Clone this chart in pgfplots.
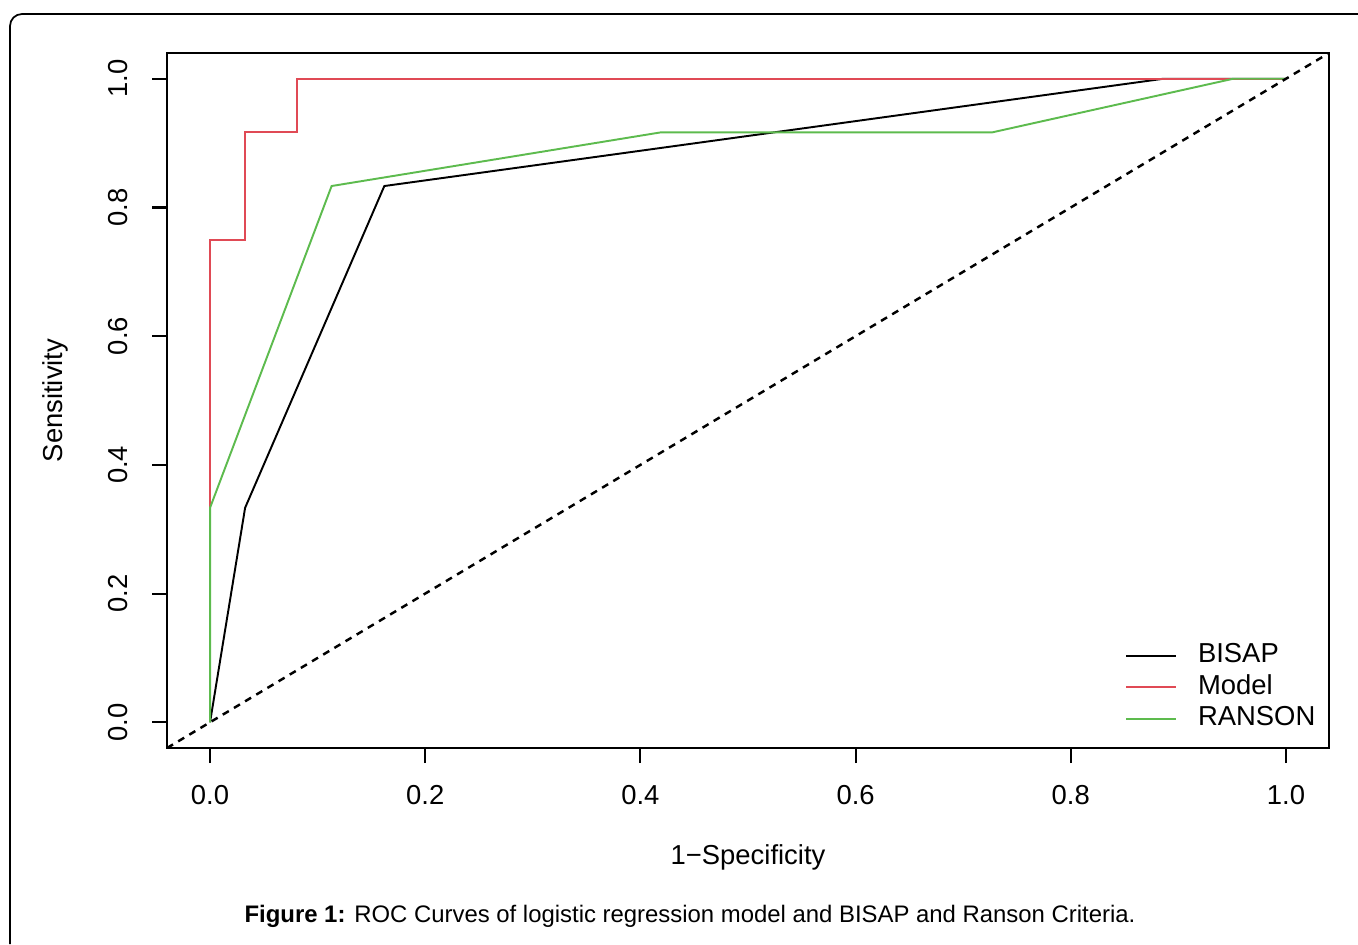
\documentclass[border=0pt]{standalone}
\usepackage{pgfplots}
\pgfplotsset{compat=1.18}
\usepackage{fontspec}
\setmainfont{Liberation Sans}
\definecolor{rred}{HTML}{E04A55}
\definecolor{rgreen}{HTML}{5DBB4E}

\begin{document}
\begin{tikzpicture}[x=1cm,y=1cm]
\path[use as bounding box] (0,0) rectangle (13.58,-9.44);
% outer frame of the figure box
\draw[line width=0.5pt] (0.10,-9.44) -- (0.10,-0.26) arc[start angle=180,end angle=90,radius=0.12] -- (13.58,-0.14);
\begin{axis}[
  at={(1.67cm,-7.48cm)}, anchor=south west,
  scale only axis,
  width=11.62cm, height=6.95cm,
  xmin=-0.04, xmax=1.04, ymin=-0.04, ymax=1.04,
  xtick={0,0.2,0.4,0.6,0.8,1}, ytick={0,0.2,0.4,0.6,0.8,1},
  tick pos=left, tick align=outside,
  major tick length=1.5mm,
  axis line style={line width=0.6pt},
  tick style={line width=0.6pt,black},
  font=\fontsize{7.8}{9}\selectfont,
  /pgf/number format/assume math mode=true,
  /pgf/number format/fixed, /pgf/number format/fixed zerofill,
  /pgf/number format/precision=1,
  xticklabel style={anchor=north, yshift=-1.0mm},
  yticklabel style={rotate=90, anchor=south, yshift=1.2mm},
  xlabel={1−Specificity},
  ylabel={Sensitivity},
  xlabel style={at={(axis description cs:0.5,-0.158)}, anchor=center},
  ylabel style={at={(axis description cs:-0.0964,0.5)}, anchor=center},
  legend style={draw=none, fill=none, at={(axis cs:0.84,0.145)}, anchor=north west,
    font=\fontsize{7.8}{9}\selectfont, row sep=-0.75mm},
  legend cell align=left,
  legend image code/.code={\draw[#1] (0cm,0cm) -- (0.5cm,0cm); \path (0.64cm,0cm);},
  every axis plot/.append style={line width=0.55pt},
]
\addplot[black] coordinates {(0,0) (0.0326,0.3333) (0.162,0.8333) (0.886,1) (1,1)};
\addplot[rred] coordinates {(0,0) (0,0.75) (0.0326,0.75) (0.0326,0.9167) (0.0804,0.9167) (0.0804,1) (1,1)};
\addplot[rgreen] coordinates {(0,0) (0,0.3333) (0.113,0.8333) (0.419,0.9167) (0.727,0.9167) (0.951,1) (1,1)};
\legend{BISAP,Model,RANSON}
\addplot[black, line width=0.7pt, dash pattern=on 0.7mm off 0.6mm, forget plot] coordinates {(-0.04,-0.04) (1.04,1.04)};
\end{axis}
\node[font=\fontsize{6.8}{8}\selectfont] at (6.90,-9.16) {\textbf{Figure 1:} ROC Curves of logistic regression model and BISAP and Ranson Criteria.};
\end{tikzpicture}
\end{document}
